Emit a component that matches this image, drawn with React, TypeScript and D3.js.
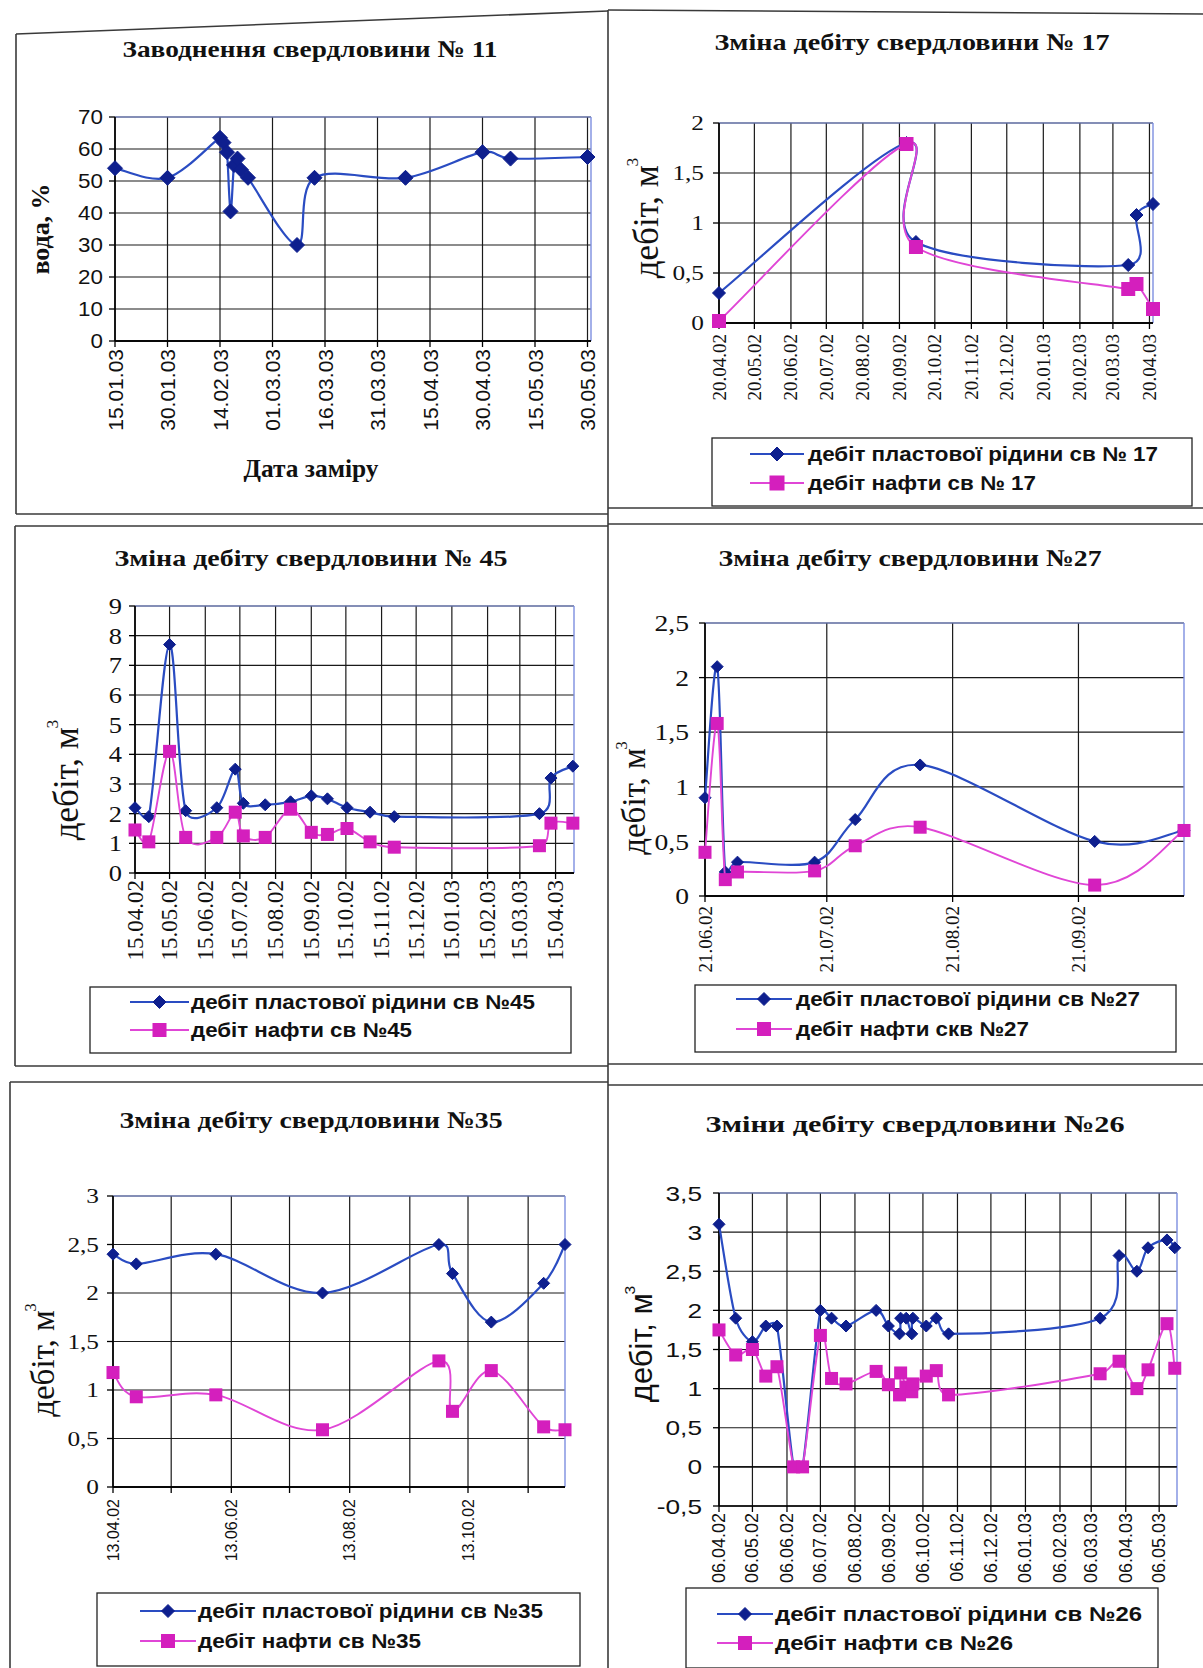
import React from "react";
import * as d3 from "d3";

const parseDay = d3.utcParse("%d.%m.%y");

// ---------- Well 11: water cut, % ----------
const well11Dates = ["15.01.03", "30.01.03", "14.02.03", "15.02.03", "16.02.03", "17.02.03", "18.02.03", "19.02.03", "20.02.03", "22.02.03", "08.03.03", "13.03.03", "08.04.03", "30.04.03", "08.05.03", "30.05.03"];
const well11Water = [54, 51, 63.5, 62, 59, 40.5, 55, 57, 53.5, 51, 30, 51, 51, 59, 57, 57.5];
const well11AxisDates = ["15.01.03", "30.01.03", "14.02.03", "01.03.03", "16.03.03", "31.03.03", "15.04.03", "30.04.03", "15.05.03", "30.05.03"];

// ---------- Well 17 ----------
const well17Dates = ["20.04.02", "26.09.02", "04.10.02", "02.04.03", "09.04.03", "23.04.03"];
const well17Fluid = [0.3, 1.8, 0.81, 0.58, 1.08, 1.19];
const well17Oil = [0.02, 1.79, 0.76, 0.34, 0.39, 0.14];
const well17AxisDates = ["20.04.02", "20.05.02", "20.06.02", "20.07.02", "20.08.02", "20.09.02", "20.10.02", "20.11.02", "20.12.02", "20.01.03", "20.02.03", "20.03.03", "20.04.03"];

// ---------- Well 45 ----------
const well45Dates = ["15.04.02", "27.04.02", "15.05.02", "29.05.02", "25.06.02", "11.07.02", "18.07.02", "06.08.02", "28.08.02", "15.09.02", "29.09.02", "16.10.02", "05.11.02", "26.11.02", "01.04.03", "11.04.03", "30.04.03"];
const well45Fluid = [2.2, 1.9, 7.7, 2.1, 2.2, 3.5, 2.35, 2.3, 2.4, 2.6, 2.5, 2.2, 2.05, 1.9, 2.0, 3.2, 3.6];
const well45Oil = [1.45, 1.05, 4.1, 1.2, 1.2, 2.05, 1.25, 1.2, 2.15, 1.37, 1.3, 1.5, 1.05, 0.87, 0.92, 1.68, 1.68];
const well45AxisDates = ["15.04.02", "15.05.02", "15.06.02", "15.07.02", "15.08.02", "15.09.02", "15.10.02", "15.11.02", "15.12.02", "15.01.03", "15.02.03", "15.03.03", "15.04.03"];

// ---------- Well 27 ----------
const well27Dates = ["21.06.02", "24.06.02", "26.06.02", "29.06.02", "18.07.02", "28.07.02", "13.08.02", "25.09.02", "17.10.02"];
const well27Fluid = [0.9, 2.1, 0.22, 0.31, 0.31, 0.7, 1.2, 0.5, 0.6];
const well27Oil = [0.4, 1.58, 0.15, 0.22, 0.23, 0.46, 0.63, 0.1, 0.6];
const well27AxisDates = ["21.06.02", "21.07.02", "21.08.02", "21.09.02"];

// ---------- Well 35 ----------
const well35Dates = ["13.04.02", "25.04.02", "05.06.02", "30.07.02", "28.09.02", "05.10.02", "25.10.02", "21.11.02", "02.12.02"];
const well35Fluid = [2.4, 2.3, 2.4, 2.0, 2.5, 2.2, 1.7, 2.1, 2.5];
const well35Oil = [1.18, 0.93, 0.95, 0.59, 1.3, 0.78, 1.2, 0.62, 0.59];
const well35GridDates = ["13.04.02", "13.05.02", "13.06.02", "13.07.02", "13.08.02", "13.09.02", "13.10.02", "13.11.02"];
const well35LabelDates = ["13.04.02", "13.06.02", "13.08.02", "13.10.02"];

// ---------- Well 26 ----------
const well26Dates = ["06.04.02", "21.04.02", "06.05.02", "18.05.02", "28.05.02", "12.06.02", "20.06.02", "06.07.02", "16.07.02", "29.07.02", "25.08.02", "05.09.02", "15.09.02", "16.09.02", "21.09.02", "26.09.02", "27.09.02", "09.10.02", "18.10.02", "29.10.02", "14.03.03", "31.03.03", "16.04.03", "26.04.03", "13.05.03", "20.05.03"];
const well26Fluid = [3.1, 1.9, 1.6, 1.8, 1.8, 0, 0, 2.0, 1.9, 1.8, 2.0, 1.8, 1.7, 1.9, 1.9, 1.7, 1.9, 1.8, 1.9, 1.7, 1.9, 2.7, 2.5, 2.8, 2.9, 2.8];
const well26Oil = [1.75, 1.43, 1.5, 1.16, 1.28, 0, 0, 1.68, 1.13, 1.06, 1.22, 1.05, 0.92, 1.2, 1.02, 0.96, 1.06, 1.16, 1.23, 0.92, 1.19, 1.35, 1.0, 1.24, 1.83, 1.26];
const well26AxisDates = ["06.04.02", "06.05.02", "06.06.02", "06.07.02", "06.08.02", "06.09.02", "06.10.02", "06.11.02", "06.12.02", "06.01.03", "06.02.03", "06.03.03", "06.04.03", "06.05.03"];

const SERIF = "'Liberation Serif', 'Times New Roman', serif";
const SANS = "'Liberation Sans', Arial, sans-serif";

const BLUE_LINE = "#2a4cc2";
const BLUE_MARK = "#0e1f8e";
const PINK_LINE = "#e046d6";
const PINK_MARK = "#d41fbd";

type Series = { name: string; values: number[]; kind: "diamond" | "square"; nameLen: number };

type PanelSpec = {
  title: string;
  titleX: number;
  titleY: number;
  titleLen: number;
  left: number;
  right: number;
  top: number;
  bottom: number;
  start: string;
  end: string;
  yMin: number;
  yMax: number;
  yStep: number;
  yFont: string;
  yFontSize: number;
  yStretch: number;
  yGap: number;
  gridDates: string[];
  labelDates: string[];
  xFont: string;
  xFontSize: number;
  xGap: number;
  dates: string[];
  series: Series[];
  yTitle: string;
  yTitleSup: boolean;
  yTitleX: number;
  yTitleY: number;
  yTitleFont: string;
  yTitleSize: number;
  yTitleWeight: number;
  yTitleLen?: number;
  diamond: number;
  square: number;
  legend?: { x: number; y: number; w: number; h: number; lineX0: number; lineX1: number; textX: number; rows: number[] };
};

const fmtTick = (v: number) => d3.format("~g")(v).replace(".", ",").replace("\u2212", "-");

// Smoothed line in the spreadsheet style: cubic Bezier segments whose
// tangents are 1/6 of the neighbour chord, limited to half the segment length.
function smoothPath(pts: [number, number][]): string {
  const n = pts.length;
  if (!n) return "";
  const p = d3.path();
  p.moveTo(pts[0][0], pts[0][1]);
  for (let i = 0; i < n - 1; i++) {
    const p0 = pts[Math.max(0, i - 1)];
    const p1 = pts[i];
    const p2 = pts[i + 1];
    const p3 = pts[Math.min(n - 1, i + 2)];
    const lim = Math.hypot(p2[0] - p1[0], p2[1] - p1[1]) / 2;
    let t1x = (p2[0] - p0[0]) / 6;
    let t1y = (p2[1] - p0[1]) / 6;
    let t2x = (p3[0] - p1[0]) / 6;
    let t2y = (p3[1] - p1[1]) / 6;
    const l1 = Math.hypot(t1x, t1y);
    const l2 = Math.hypot(t2x, t2y);
    if (l1 > lim && l1 > 0) {
      t1x *= lim / l1;
      t1y *= lim / l1;
    }
    if (l2 > lim && l2 > 0) {
      t2x *= lim / l2;
      t2y *= lim / l2;
    }
    p.bezierCurveTo(p1[0] + t1x, p1[1] + t1y, p2[0] - t2x, p2[1] - t2y, p2[0], p2[1]);
  }
  return p.toString();
}

const panels: PanelSpec[] = [
  {
    title: "Заводнення свердловини № 11",
    titleX: 310, titleY: 57, titleLen: 375,
    left: 115, right: 591, top: 117, bottom: 341,
    start: "15.01.03", end: "31.05.03",
    yMin: 0, yMax: 70, yStep: 10,
    yFont: SANS, yFontSize: 20, yStretch: 1.12, yGap: 12,
    gridDates: well11AxisDates, labelDates: well11AxisDates,
    xFont: SANS, xFontSize: 21, xGap: 8,
    dates: well11Dates,
    series: [{ name: "", values: well11Water, kind: "diamond", nameLen: 0 }],
    yTitle: "вода, %", yTitleSup: false, yTitleX: 40, yTitleY: 229, yTitleFont: SERIF, yTitleSize: 25, yTitleWeight: 700, yTitleLen: 91,
    diamond: 7.5, square: 6,
  },
  {
    title: "Зміна дебіту свердловини № 17",
    titleX: 912, titleY: 50, titleLen: 395,
    left: 719, right: 1153, top: 123, bottom: 323,
    start: "20.04.02", end: "23.04.03",
    yMin: 0, yMax: 2, yStep: 0.5,
    yFont: SERIF, yFontSize: 22, yStretch: 1.15, yGap: 15,
    gridDates: well17AxisDates, labelDates: well17AxisDates,
    xFont: SERIF, xFontSize: 19, xGap: 11,
    dates: well17Dates,
    series: [
      { name: "дебіт пластової рідини св № 17", values: well17Fluid, kind: "diamond", nameLen: 350 },
      { name: "дебіт нафти св № 17", values: well17Oil, kind: "square", nameLen: 228 },
    ],
    yTitle: "дебіт, м", yTitleSup: true, yTitleX: 646, yTitleY: 218, yTitleFont: SERIF, yTitleSize: 35, yTitleWeight: 400,
    diamond: 6.5, square: 7,
    legend: { x: 712, y: 438, w: 480, h: 68, lineX0: 750, lineX1: 804, textX: 808, rows: [454, 483] },
  },
  {
    title: "Зміна дебіту свердловини № 45",
    titleX: 311, titleY: 566, titleLen: 393,
    left: 135, right: 574, top: 606, bottom: 873,
    start: "15.04.02", end: "01.05.03",
    yMin: 0, yMax: 9, yStep: 1,
    yFont: SERIF, yFontSize: 23, yStretch: 1.15, yGap: 13,
    gridDates: well45AxisDates, labelDates: well45AxisDates,
    xFont: SERIF, xFontSize: 23, xGap: 7,
    dates: well45Dates,
    series: [
      { name: "дебіт пластової рідини св №45", values: well45Fluid, kind: "diamond", nameLen: 344 },
      { name: "дебіт нафти св №45", values: well45Oil, kind: "square", nameLen: 221 },
    ],
    yTitle: "дебіт, м", yTitleSup: true, yTitleX: 66, yTitleY: 780, yTitleFont: SERIF, yTitleSize: 35, yTitleWeight: 400,
    diamond: 6, square: 6.5,
    legend: { x: 90, y: 987, w: 481, h: 66, lineX0: 130, lineX1: 189, textX: 191, rows: [1002, 1030] },
  },
  {
    title: "Зміна дебіту свердловини №27",
    titleX: 910, titleY: 566, titleLen: 383,
    left: 705, right: 1184, top: 623, bottom: 896,
    start: "21.06.02", end: "17.10.02",
    yMin: 0, yMax: 2.5, yStep: 0.5,
    yFont: SERIF, yFontSize: 23, yStretch: 1.2, yGap: 16,
    gridDates: well27AxisDates, labelDates: well27AxisDates,
    xFont: SERIF, xFontSize: 19, xGap: 10,
    dates: well27Dates,
    series: [
      { name: "дебіт пластової рідини св №27", values: well27Fluid, kind: "diamond", nameLen: 344 },
      { name: "дебіт нафти скв №27", values: well27Oil, kind: "square", nameLen: 233 },
    ],
    yTitle: "дебіт, м", yTitleSup: true, yTitleX: 634, yTitleY: 798, yTitleFont: SERIF, yTitleSize: 33, yTitleWeight: 400,
    diamond: 6, square: 6.5,
    legend: { x: 695, y: 985, w: 481, h: 67, lineX0: 736, lineX1: 792, textX: 796, rows: [999, 1029] },
  },
  {
    title: "Зміна дебіту свердловини №35",
    titleX: 311, titleY: 1128, titleLen: 383,
    left: 113, right: 565, top: 1196, bottom: 1487,
    start: "13.04.02", end: "02.12.02",
    yMin: 0, yMax: 3, yStep: 0.5,
    yFont: SERIF, yFontSize: 22, yStretch: 1.15, yGap: 14,
    gridDates: well35GridDates, labelDates: well35LabelDates,
    xFont: SANS, xFontSize: 16, xGap: 12,
    dates: well35Dates,
    series: [
      { name: "дебіт пластової рідини св №35", values: well35Fluid, kind: "diamond", nameLen: 345 },
      { name: "дебіт нафти св №35", values: well35Oil, kind: "square", nameLen: 223 },
    ],
    yTitle: "дебіт, м", yTitleSup: true, yTitleX: 43, yTitleY: 1360, yTitleFont: SERIF, yTitleSize: 33, yTitleWeight: 400,
    diamond: 6, square: 6.5,
    legend: { x: 97, y: 1593, w: 483, h: 73, lineX0: 140, lineX1: 196, textX: 198, rows: [1611, 1641] },
  },
  {
    title: "Зміни дебіту свердловини №26",
    titleX: 915, titleY: 1132, titleLen: 419,
    left: 719, right: 1177, top: 1193, bottom: 1506,
    start: "06.04.02", end: "22.05.03",
    yMin: -0.5, yMax: 3.5, yStep: 0.5,
    yFont: SANS, yFontSize: 21, yStretch: 1.25, yGap: 17,
    gridDates: well26AxisDates, labelDates: well26AxisDates,
    xFont: SANS, xFontSize: 18, xGap: 7,
    dates: well26Dates,
    series: [
      { name: "дебіт пластової рідини св №26", values: well26Fluid, kind: "diamond", nameLen: 367 },
      { name: "дебіт нафти св №26", values: well26Oil, kind: "square", nameLen: 238 },
    ],
    yTitle: "дебіт, м", yTitleSup: true, yTitleX: 641, yTitleY: 1344, yTitleFont: SANS, yTitleSize: 31, yTitleWeight: 400,
    diamond: 6, square: 6.5,
    legend: { x: 686, y: 1588, w: 472, h: 80, lineX0: 717, lineX1: 773, textX: 775, rows: [1614, 1643] },
  },
];

// page frame around the individual figures
const frameSegments: [number, number, number, number][] = [
  [16, 34, 608, 11],
  [608, 10, 1203, 14],
  [16, 34, 16, 514],
  [16, 514, 608, 514],
  [608, 508, 1203, 508],
  [608, 10, 608, 1668],
  [15, 526, 608, 526],
  [608, 524, 1203, 524],
  [15, 526, 15, 1066],
  [15, 1066, 608, 1066],
  [608, 1064, 1203, 1064],
  [10, 1082, 608, 1082],
  [608, 1085, 1203, 1085],
  [10, 1082, 10, 1668],
];

function Marker({ kind, x, y, d, s }: { kind: "diamond" | "square"; x: number; y: number; d: number; s: number }) {
  if (kind === "diamond") {
    return <path d={`M${x},${y - d}L${x + d},${y}L${x},${y + d}L${x - d},${y}Z`} fill={BLUE_MARK} stroke={BLUE_MARK} strokeWidth={1} />;
  }
  return <rect x={x - s} y={y - s} width={2 * s} height={2 * s} fill={PINK_MARK} />;
}

function ChartPanel({ p }: { p: PanelSpec }) {
  const x = d3.scaleUtc().domain([parseDay(p.start) as Date, parseDay(p.end) as Date]).range([p.left, p.right]);
  const y = d3.scaleLinear().domain([p.yMin, p.yMax]).range([p.bottom, p.top]);
  const yTicks = d3.range(p.yMin, p.yMax + p.yStep / 2, p.yStep).map((v) => +v.toFixed(3));
  const gridX = p.gridDates.map((s) => x(parseDay(s) as Date));
  const labelX = p.labelDates.map((s) => ({ s, px: x(parseDay(s) as Date) }));
  const xs = p.dates.map((s) => x(parseDay(s) as Date));
  const zeroY = y(Math.max(p.yMin, Math.min(0, p.yMax)));

  return (
    <g>
      <text
        x={p.titleX}
        y={p.titleY}
        textAnchor="middle"
        fontFamily={SERIF}
        fontWeight={700}
        fontSize={24}
        textLength={p.titleLen}
        lengthAdjust="spacingAndGlyphs"
        fill="#111"
      >
        {p.title}
      </text>

      {/* grid */}
      {yTicks.map((v) => (
        <line key={`hy${v}`} x1={p.left} x2={p.right} y1={y(v)} y2={y(v)} stroke="#1a1a1a" strokeWidth={1.2} />
      ))}
      {gridX.map((gx, i) => (
        <line key={`gx${i}`} x1={gx} x2={gx} y1={p.top} y2={p.bottom} stroke="#1a1a1a" strokeWidth={1.2} />
      ))}
      {/* plot area border on the top and right */}
      <line x1={p.left} x2={p.right} y1={p.top} y2={p.top} stroke="#7d8fe0" strokeWidth={1.2} />
      <line x1={p.right} x2={p.right} y1={p.top} y2={p.bottom} stroke="#7d8fe0" strokeWidth={1.4} />

      {/* axes */}
      <line x1={p.left} x2={p.left} y1={p.top} y2={p.bottom} stroke="#000" strokeWidth={1.6} />
      <line x1={p.left} x2={p.right} y1={zeroY} y2={zeroY} stroke="#000" strokeWidth={1.4} />
      <line x1={p.left} x2={p.right} y1={p.bottom} y2={p.bottom} stroke="#000" strokeWidth={1.6} />
      {yTicks.map((v) => (
        <g key={`ty${v}`}>
          <line x1={p.left - 6} x2={p.left} y1={y(v)} y2={y(v)} stroke="#000" strokeWidth={1.3} />
          <text
            transform={`translate(${p.left - p.yGap},${y(v)}) scale(${p.yStretch},1)`}
            textAnchor="end"
            dominantBaseline="central"
            fontFamily={p.yFont}
            fontSize={p.yFontSize}
            fill="#111"
          >
            {fmtTick(v)}
          </text>
        </g>
      ))}
      {gridX.map((gx, i) => (
        <line key={`tx${i}`} x1={gx} x2={gx} y1={p.bottom} y2={p.bottom + 6} stroke="#000" strokeWidth={1.3} />
      ))}
      {labelX.map(({ s, px }) => (
        <text
          key={`lx${s}`}
          transform={`translate(${px},${p.bottom + p.xGap}) rotate(-90)`}
          textAnchor="end"
          dominantBaseline="central"
          fontFamily={p.xFont}
          fontSize={p.xFontSize}
          fill="#111"
        >
          {s}
        </text>
      ))}

      {/* series: line first, markers over it */}
      {p.series.map((s, si) => {
        const pts = s.values.map((v, i) => [xs[i], y(v)] as [number, number]);
        const isBlue = s.kind === "diamond";
        return (
          <g key={`s${si}`}>
            <path d={smoothPath(pts)} fill="none" stroke={isBlue ? BLUE_LINE : PINK_LINE} strokeWidth={isBlue ? 2.2 : 1.9} />
            {pts.map(([px, py], i) => (
              <Marker key={i} kind={s.kind} x={px} y={py} d={p.diamond} s={p.square} />
            ))}
          </g>
        );
      })}

      {/* y axis title */}
      <text
        transform={`translate(${p.yTitleX},${p.yTitleY}) rotate(-90)`}
        textAnchor="middle"
        dominantBaseline="central"
        fontFamily={p.yTitleFont}
        fontSize={p.yTitleSize}
        fontWeight={p.yTitleWeight}
        textLength={p.yTitleLen}
        lengthAdjust={p.yTitleLen ? "spacingAndGlyphs" : undefined}
        fill="#111"
      >
        {p.yTitle}
        {p.yTitleSup ? (
          <tspan fontSize={p.yTitleSize * 0.5} dx={-p.yTitleSize * 0.04} dy={-p.yTitleSize * 0.4}>
            3
          </tspan>
        ) : null}
      </text>

      {/* legend */}
      {p.legend ? (
        <g>
          <rect x={p.legend.x} y={p.legend.y} width={p.legend.w} height={p.legend.h} fill="#fff" stroke="#222" strokeWidth={1.3} />
          {p.series.map((s, i) => {
            const ly = p.legend!.rows[i];
            const mid = (p.legend!.lineX0 + p.legend!.lineX1) / 2;
            const isBlue = s.kind === "diamond";
            return (
              <g key={`lg${i}`}>
                <line x1={p.legend!.lineX0} x2={p.legend!.lineX1} y1={ly} y2={ly} stroke={isBlue ? BLUE_LINE : PINK_LINE} strokeWidth={2.2} />
                <Marker kind={s.kind} x={mid} y={ly} d={p.diamond + 0.5} s={p.square + 0.5} />
                <text
                  x={p.legend!.textX}
                  y={ly}
                  dominantBaseline="central"
                  fontFamily={SANS}
                  fontWeight={700}
                  fontSize={20}
                  textLength={s.nameLen}
                  lengthAdjust="spacingAndGlyphs"
                  fill="#111"
                >
                  {s.name}
                </text>
              </g>
            );
          })}
        </g>
      ) : null}
    </g>
  );
}

export default function App() {
  return (
    <svg
      width={1203}
      height={1668}
      viewBox="0 0 1203 1668"
      style={{ position: "absolute", left: 0, top: 0, display: "block", background: "#fff" }}
    >
      <rect x={0} y={0} width={1203} height={1668} fill="#fff" />
      {frameSegments.map(([x1, y1, x2, y2], i) => (
        <line key={i} x1={x1} y1={y1} x2={x2} y2={y2} stroke="#3a3a3a" strokeWidth={1.6} />
      ))}
      {panels.map((p, i) => (
        <ChartPanel key={i} p={p} />
      ))}
      <text x={311} y={477} textAnchor="middle" fontFamily={SERIF} fontWeight={700} fontSize={25} textLength={135} lengthAdjust="spacingAndGlyphs" fill="#111">
        Дата заміру
      </text>
    </svg>
  );
}
